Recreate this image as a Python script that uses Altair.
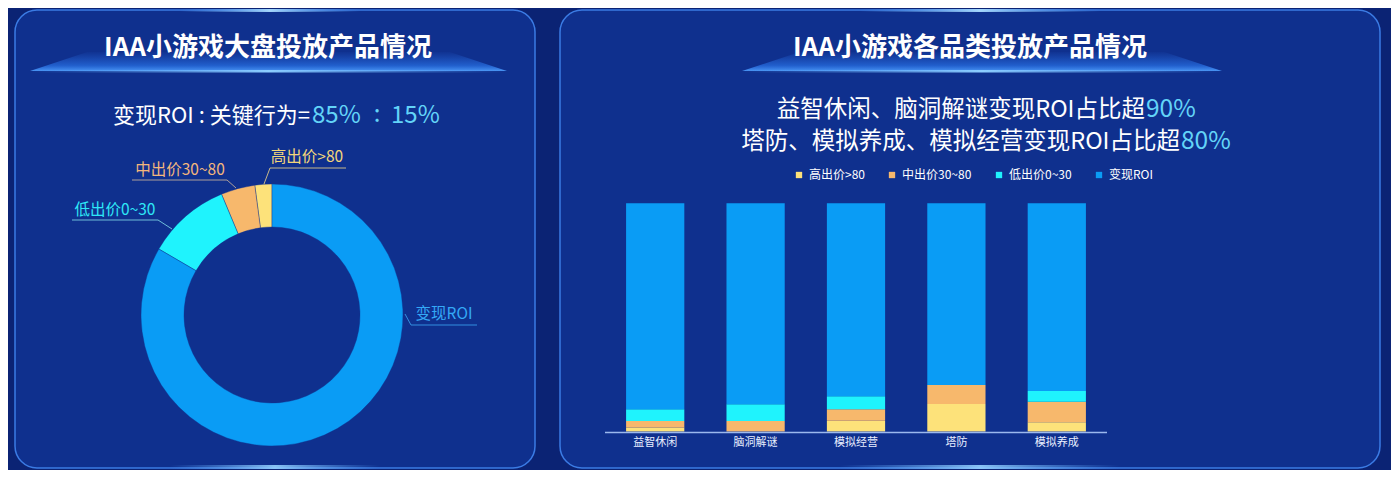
import altair as alt
import pandas as pd

FONT = "Noto Sans CJK SC"
W, H = 1383, 462
OX, OY = 8, 8

# ---------------- data ----------------
series = ["高出价>80", "中出价30~80", "低出价0~30", "变现ROI"]
colors = ["#fde27a", "#f7b86c", "#1ff3fd", "#0a9cf5"]

donut_values = [2.1, 4.2, 10.3, 83.4]

categories = ["益智休闲", "脑洞解谜", "模拟经营", "塔防", "模拟养成"]
high = [1.7, 0.0, 4.7, 12.1, 4.0]
mid = [2.9, 4.6, 5.1, 8.3, 9.0]
low = [5.1, 7.3, 5.6, 0.0, 4.8]
roi = [90.3, 88.1, 84.6, 79.6, 82.2]

title_left = "IAA小游戏大盘投放产品情况"
title_right = "IAA小游戏各品类投放产品情况"
sub_left_a = "变现ROI : 关键行为="
sub_left_b = ["85%", ":", "15%"]
sub_r1_a = "益智休闲、脑洞解谜变现ROI占比超"
sub_r1_b = "90%"
sub_r2_a = "塔防、模拟养成、模拟经营变现ROI占比超"
sub_r2_b = "80%"

# ---------------- styles ----------------
BG = "#0b2374"
PANEL = "#0f308e"
BORDER = "#3b7be4"
HILITE = "#63d4f8"


def px(x):
    return x - OX


def py(y):
    return y - OY


one = pd.DataFrame({"a": [0]})

cscale = alt.Scale(domain=series, range=colors)
legend = alt.Legend(
    orient="none", legendX=px(793), legendY=py(169), direction="horizontal",
    title=None, symbolType="square", symbolSize=40, symbolStrokeWidth=0,
    labelFont=FONT, labelFontSize=12, labelColor="#ffffff",
    columnPadding=21, labelOffset=4, padding=0,
)

# ---------------- decorations ----------------
def panel(x1, x2, y1, y2):
    return alt.Chart(one).mark_rect(
        cornerRadius=22, fill=PANEL, stroke=BORDER, strokeWidth=1.5
    ).encode(x=alt.value(px(x1)), x2=alt.value(px(x2)),
             y=alt.value(py(y1)), y2=alt.value(py(y2)))


def hglow(x1, x2, y1, y2, color, alpha):
    grad = alt.LinearGradient(
        gradient="linear", x1=0, x2=1, y1=0, y2=0,
        stops=[alt.GradientStop(color="rgba(90,170,255,0)", offset=0),
               alt.GradientStop(color=color, offset=0.5),
               alt.GradientStop(color="rgba(90,170,255,0)", offset=1)])
    return alt.Chart(one).mark_rect(fill=grad, opacity=alpha).encode(
        x=alt.value(px(x1)), x2=alt.value(px(x2)),
        y=alt.value(py(y1)), y2=alt.value(py(y2)))


def banner(cx, cy, width):
    shape = "M -1 0.04 L -0.76 -0.04 L 0.76 -0.04 L 1 0.04 Z"
    grad = alt.LinearGradient(
        gradient="linear", x1=0, x2=0, y1=0, y2=1,
        stops=[alt.GradientStop(color="rgba(40,110,230,0.05)", offset=0),
               alt.GradientStop(color="rgba(45,125,245,0.6)", offset=0.7),
               alt.GradientStop(color="rgba(80,160,255,0.9)", offset=1)])
    return alt.Chart(one).mark_point(
        shape=shape, size=width * width, filled=True, fill=grad, opacity=1,
        strokeWidth=0
    ).encode(x=alt.value(px(cx)), y=alt.value(py(cy)))


def text(t, x, y, size, color, weight="normal", align="center"):
    return alt.Chart(pd.DataFrame({"t": [t]})).mark_text(
        font=FONT, fontSize=size, color=color, fontWeight=weight,
        align=align, baseline="middle"
    ).encode(text="t:N", x=alt.value(px(x)), y=alt.value(py(y)))


def seg(x1, y1, x2, y2, color, w=1, op=0.85):
    return alt.Chart(one).mark_rule(color=color, strokeWidth=w, opacity=op).encode(
        x=alt.value(px(x1)), y=alt.value(py(y1)),
        x2=alt.value(px(x2)), y2=alt.value(py(y2)))


layers = [
    panel(15, 535, 10, 468),
    panel(560, 1380, 10, 468),
    hglow(180, 360, 9, 12, "rgba(170,220,255,0.95)", 1),
    hglow(860, 1100, 9, 12, "rgba(170,220,255,0.95)", 1),
    hglow(170, 380, 465, 469, "rgba(150,210,255,0.9)", 1),
    hglow(840, 1120, 465, 469, "rgba(150,210,255,0.9)", 1),
    banner(268.5, 61.5, 477),
    banner(982, 61.5, 480),
    hglow(30, 507, 70, 72.5, "rgba(140,205,255,1)", 1),
    hglow(742, 1222, 70, 72.5, "rgba(140,205,255,1)", 1),
    text(title_left, 268, 48, 26, "#ffffff", "bold"),
    text(title_right, 970, 48, 26, "#ffffff", "bold"),
    text(sub_left_a, 310, 116, 22, "#ffffff", align="right"),
    text(sub_left_b[0], 312, 116, 24, HILITE, align="left"),
    text(sub_left_b[1], 377, 115, 24, HILITE),
    text(sub_left_b[2], 391, 116, 24, HILITE, align="left"),
    text(sub_r1_a, 1145, 110, 23.5, "#ffffff", align="right"),
    text(sub_r1_b, 1146, 110, 24.5, HILITE, align="left"),
    text(sub_r2_a, 1180, 142, 23.5, "#ffffff", align="right"),
    text(sub_r2_b, 1181, 142, 24.5, HILITE, align="left"),
]

# ---------------- donut ----------------
donut_df = pd.DataFrame({"series": series, "value": donut_values})
rank = {s: i for i, s in enumerate(reversed(series))}
donut_df["rank"] = donut_df["series"].map(rank)

arc = alt.Chart(donut_df).mark_arc(
    innerRadius=88, outerRadius=131, stroke=PANEL, strokeWidth=0.4
).encode(
    theta=alt.Theta("value:Q", stack=True),
    color=alt.Color("series:N", scale=cscale, legend=legend),
    order=alt.Order("rank:Q"),
    x=alt.value(px(272)), y=alt.value(py(315)),
)
layers.append(arc)

# donut labels with leader lines
layers += [
    text("高出价>80", 307, 157, 15.5, "#f3d67a"),
    seg(270, 168, 346, 168, "#e9d08a"),
    seg(270, 168, 264, 184, "#e9d08a"),
    text("中出价30~80", 180, 170, 15.5, "#f3b67c"),
    seg(132, 180, 227, 180, "#c9b39c"),
    seg(227, 180, 236, 188, "#c9b39c"),
    text("低出价0~30", 115, 210, 15.5, "#2ee7f6"),
    seg(72, 220, 158, 220, "#7fd6e6"),
    seg(158, 220, 172, 229, "#7fd6e6"),
    text("变现ROI", 444, 314, 15.5, "#34a8f6"),
    seg(411, 325, 477, 325, "#3aa0ee"),
    seg(411, 325, 405, 314, "#3aa0ee"),
]

# ---------------- stacked bars ----------------
rows = []
for i, c in enumerate(categories):
    for s, vals in zip(series, [high, mid, low, roi]):
        rows.append({"category": c, "series": s, "value": vals[i],
                     "rank": series.index(s)})
bar_df = pd.DataFrame(rows)

xscale = alt.Scale(domain=categories, range=[px(605), px(1107)],
                   paddingInner=0.42, paddingOuter=0.21)

bars = alt.Chart(bar_df).mark_bar().encode(
    x=alt.X("category:N", sort=categories, scale=xscale, axis=None),
    y=alt.Y("value:Q", stack="normalize",
            scale=alt.Scale(domain=[0, 1], range=[py(431.5), py(203.3)]),
            axis=None),
    color=alt.Color("series:N", scale=cscale, legend=legend),
    order=alt.Order("rank:Q"),
)
layers.append(bars)

# axis line and category labels (placed through the band scale)
layers.append(seg(605, 432.5, 1107, 432.5, "#9bb8ee", w=1.5, op=1))
cat_df = pd.DataFrame({"category": categories})
layers.append(
    alt.Chart(cat_df).mark_text(
        font=FONT, fontSize=11, color="#e8eeff", baseline="middle"
    ).encode(
        x=alt.X("category:N", sort=categories, scale=xscale, axis=None),
        text="category:N",
        y=alt.value(py(443)),
    )
)

chart = alt.layer(*layers).resolve_scale(theta="independent").properties(
    width=W, height=H, padding=0, autosize="none", background=BG
).configure_view(stroke=None)

chart.save("out.html", embed_options={"renderer": "svg", "actions": False})
